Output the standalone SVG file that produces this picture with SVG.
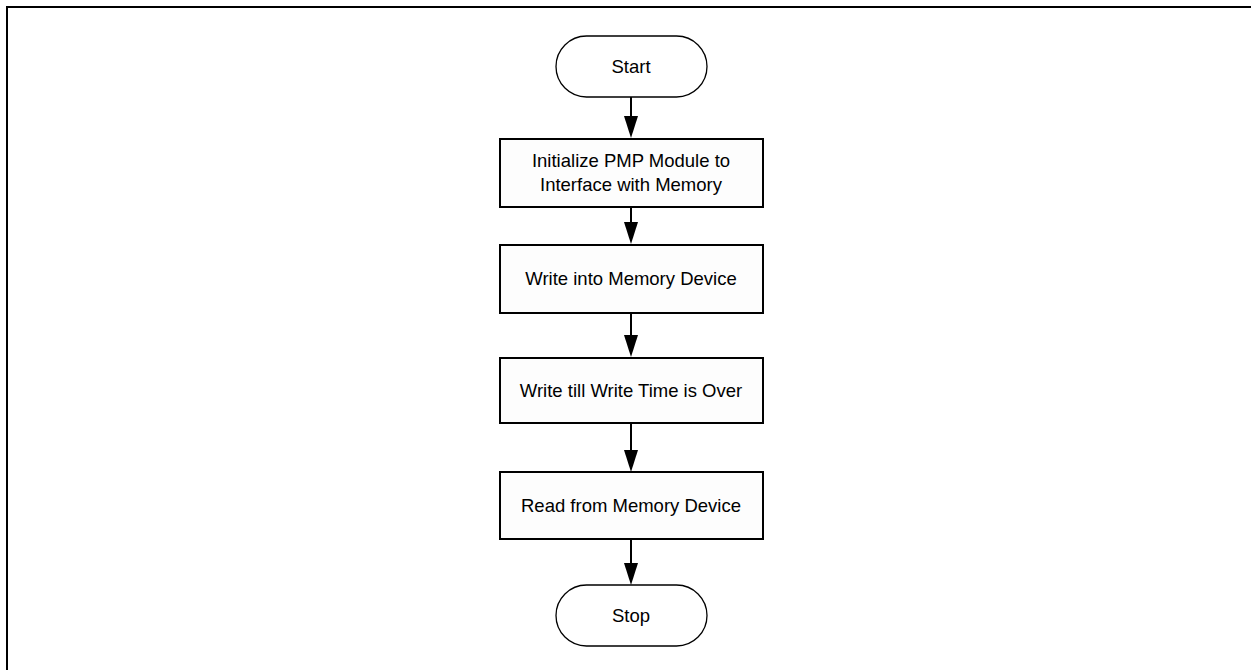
<svg xmlns="http://www.w3.org/2000/svg" width="1251" height="670" viewBox="0 0 1251 670">
<style>
.term{fill:#ffffff;stroke:#000;stroke-width:1.3}
.box{fill:#fdfdfd;stroke:#000;stroke-width:2}
.lbl{font-family:"Liberation Sans",Arial,sans-serif;font-size:18.5px;fill:#000;text-anchor:middle}
.conn{stroke:#000;stroke-width:2;fill:none}
</style>
<defs>
<marker id="ah" markerWidth="14" markerHeight="22" refX="7" refY="22" orient="auto-start-reverse" markerUnits="userSpaceOnUse" viewBox="0 0 14 22">
<path d="M0,0 L14,0 L7,22 Z" fill="#000"/>
</marker>
</defs>
<rect x="7" y="7" width="1260" height="680" fill="none" stroke="#000" stroke-width="2"/>
<g id="connectors">
<path class="conn" d="M631,97 V116"/><path d="M624,116 L638,116 L631,138 Z"/>
<path class="conn" d="M631,207 V222"/><path d="M624,222 L638,222 L631,244 Z"/>
<path class="conn" d="M631,313 V335"/><path d="M624,335 L638,335 L631,357 Z"/>
<path class="conn" d="M631,423 V450"/><path d="M624,450 L638,450 L631,472 Z"/>
<path class="conn" d="M631,539 V563"/><path d="M624,563 L638,563 L631,585 Z"/>
</g>
<g id="start">
<rect class="term" x="556" y="36" width="151" height="61" rx="30.5" ry="30.5"/>
<text class="lbl" x="631" y="73">Start</text>
</g>
<g id="init">
<rect class="box" x="500" y="139" width="263" height="68"/>
<text class="lbl" x="631" y="167">Initialize PMP Module to</text>
<text class="lbl" x="631" y="191">Interface with Memory</text>
</g>
<g id="write">
<rect class="box" x="500" y="245" width="263" height="68"/>
<text class="lbl" x="631" y="285">Write into Memory Device</text>
</g>
<g id="writetill">
<rect class="box" x="500" y="358" width="263" height="65"/>
<text class="lbl" x="631" y="397">Write till Write Time is Over</text>
</g>
<g id="read">
<rect class="box" x="500" y="472" width="263" height="67"/>
<text class="lbl" x="631" y="512">Read from Memory Device</text>
</g>
<g id="stop">
<rect class="term" x="556" y="585" width="151" height="61" rx="30.5" ry="30.5"/>
<text class="lbl" x="631" y="622">Stop</text>
</g>
</svg>
